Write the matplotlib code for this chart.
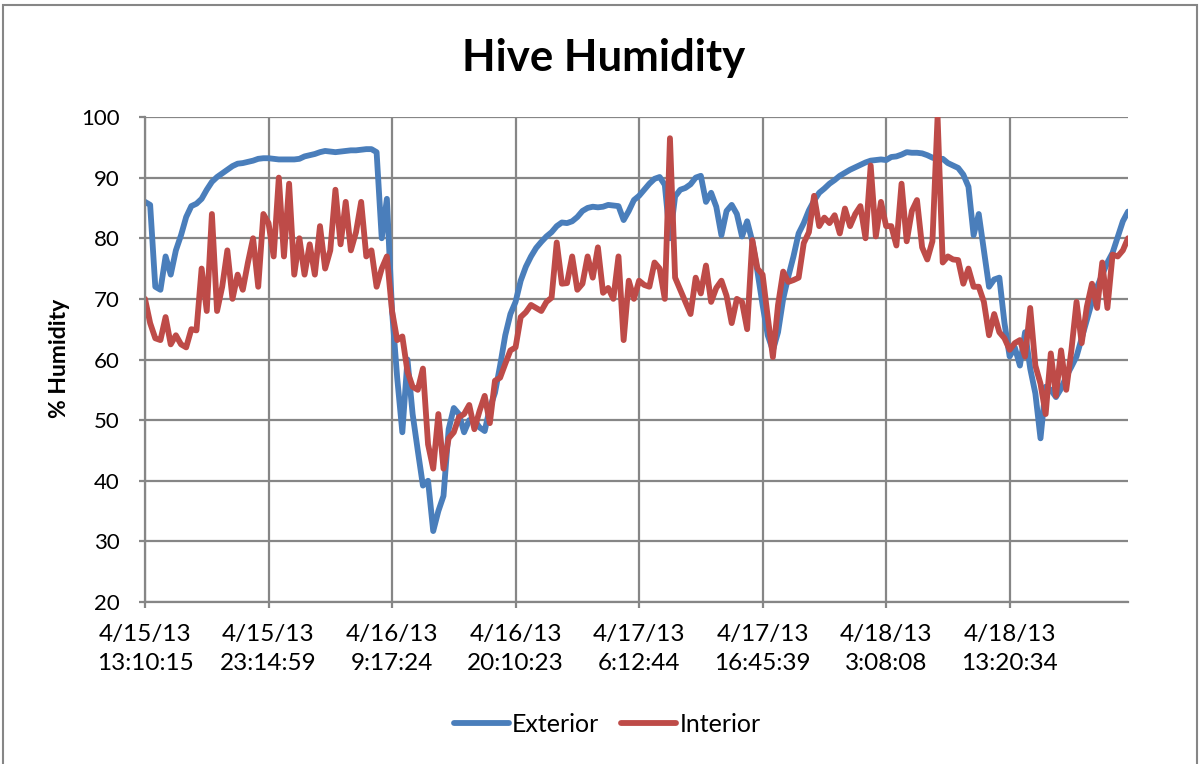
import matplotlib.pyplot as plt
from matplotlib.patches import Rectangle

# values, 24 readings between each labelled tick
exterior = [
    86, 85.5, 72, 71.5, 77, 74, 78, 80.5, 83.5, 85.3, 85.7, 86.5, 88, 89.3, 90.1, 90.7, 91.3, 91.9, 92.3, 92.4, 92.6, 92.8, 93.1, 93.2,
    93.2, 93.1, 93.0, 93.0, 93.0, 93.0, 93.1, 93.5, 93.7, 93.9, 94.2, 94.4, 94.3, 94.2, 94.3, 94.4, 94.5, 94.5, 94.6, 94.7, 94.7, 94.2, 80, 86.5,
    68, 57, 48, 60, 51, 45, 39.2, 40, 31.7, 35, 37.5, 48.5, 52, 51, 48, 50, 50, 48.8, 48.2, 52, 54.5, 59, 64, 67.5,
    69.5, 73, 75.3, 77, 78.4, 79.4, 80.3, 81, 82, 82.6, 82.5, 82.8, 83.5, 84.5, 85, 85.2, 85.1, 85.2, 85.5, 85.4, 85.3, 83, 84.5, 86.3,
    87, 88, 89, 89.8, 90.1, 88.8, 80, 86.9, 88, 88.3, 88.9, 90, 90.3, 86, 87.5, 85.2, 80.5, 84.5, 85.5, 84, 80.3, 82.8, 79.5, 74.5,
    69, 64, 61.5, 64.5, 70, 73.7, 77, 80.8, 82.5, 84.6, 86.2, 87.5, 88.2, 89, 89.6, 90.3, 90.8, 91.3, 91.7, 92.1, 92.5, 92.8, 92.9, 93,
    92.9, 93.4, 93.5, 93.8, 94.2, 94.1, 94.1, 94, 93.7, 93.3, 93, 93.1, 92.4, 92, 91.6, 90.5, 88.5, 80.5, 84, 78, 72, 73.2, 73.5, 66,
    60.5, 62, 59, 64.5, 58.5, 54.4, 47, 55.5, 55, 53.8, 55.2, 57.2, 58.8, 60.5, 63.5, 66.5, 69.5, 72, 74, 76, 77.6, 80.2, 82.8, 84.4,
]
interior = [
    70, 66, 63.5, 63.2, 67, 62.5, 64, 62.5, 62, 65, 64.8, 75, 68, 84, 68, 72, 78, 70, 74, 71.5, 76, 80, 72, 84,
    82.5, 77, 90, 77, 89, 74, 80, 74, 79, 74, 82, 75, 78, 88, 79, 86, 78, 81, 86, 77, 78, 72, 75, 77,
    68, 63.2, 63.8, 58, 55.5, 55, 58.5, 46, 42, 51, 42, 47, 48, 50.5, 51, 52.5, 48.5, 51.5, 54, 49.5, 56.5, 57, 59.3, 61.5,
    62, 67, 67.8, 69, 68.5, 68, 69.5, 70.2, 79.3, 72.5, 72.6, 77, 71.5, 72.5, 77, 73.5, 78.5, 71, 71.8, 70, 77, 63.2, 73, 70,
    73, 72.3, 72, 76, 75, 70, 96.5, 73.5, 71.5, 69.5, 67.5, 73.5, 70.9, 75.5, 69.5, 71.8, 73, 70.5, 66, 70, 69.5, 65, 79.7, 75,
    74, 67, 60.4, 69, 74.5, 72.8, 73.1, 73.5, 79.2, 81, 87, 82, 83.4, 82.5, 83.8, 80.8, 84.9, 82, 84, 85.3, 80, 92, 80.3, 86,
    82, 82, 78.8, 89, 79.5, 84.5, 86.3, 78.5, 76.5, 79.5, 100, 76, 77, 76.5, 76.4, 72.5, 75, 72, 72, 69.5, 64, 67.5, 64.5, 63.5,
    61.6, 62.7, 63.2, 60.5, 68.5, 59, 56, 51, 61, 54, 61.5, 55, 61.5, 69.5, 62.7, 68.7, 72.5, 68.5, 76, 68.5, 77.3, 77, 78, 80,
]
tick_labels = ['4/15/13\n13:10:15', '4/15/13\n23:14:59', '4/16/13\n9:17:24', '4/16/13\n20:10:23',
               '4/17/13\n6:12:44', '4/17/13\n16:45:39', '4/18/13\n3:08:08', '4/18/13\n13:20:34']
label_every = 24

plt.rcParams['font.family'] = ['Lato', 'DejaVu Sans']

fig = plt.figure(figsize=(12.02, 7.64), dpi=100)
W, H = 1202, 764
ax = fig.add_axes([145 / W, 162 / H, 983 / W, 485 / H])

x = range(len(exterior))
ax.plot(x, exterior, color='#4a7ebb', lw=4.2, label='Exterior',
        solid_joinstyle='round', solid_capstyle='round')
ax.plot(x, interior, color='#be4b48', lw=4.2, label='Interior',
        solid_joinstyle='round', solid_capstyle='round')

ax.set_xlim(0, len(exterior) - 1)
ax.set_ylim(20, 100)
ax.set_yticks(range(20, 101, 10))
ax.set_xticks(range(0, len(exterior), label_every))
ax.set_xticklabels(tick_labels, linespacing=1.45)
ax.grid(True, color='#868686', lw=1.6)
ax.set_axisbelow(True)
for s in ['top', 'right']:
    ax.spines[s].set_visible(False)
for s in ['left', 'bottom']:
    ax.spines[s].set_color('#868686')
    ax.spines[s].set_linewidth(1.6)
ax.tick_params(axis='both', colors='#868686', width=1.6, length=4, labelcolor='black')
ax.tick_params(axis='x', pad=12, labelsize=17.5)
ax.tick_params(axis='y', pad=14, labelsize=16)

fig.text(604 / W, 1 - 58 / H, 'Hive Humidity', ha='center', va='center', fontsize=31.5, fontweight='bold')
fig.text(60 / W, 1 - 358 / H, '% Humidity', ha='center', va='center', rotation=90,
         fontsize=16.5, fontweight='bold')

fig.legend(loc='center', bbox_to_anchor=(607 / W, 1 - 724 / H), ncol=2, frameon=False,
           fontsize=18, handlelength=2.2, handletextpad=0.12, columnspacing=0.9)

# chart border like the spreadsheet frame
fig.patches.append(Rectangle((3 / W, -0.02), 1194 / W, 1 - 5 / H + 0.02, transform=fig.transFigure,
                             fill=False, edgecolor='#868686', lw=1.5))

fig.savefig('out.png', dpi=100)
